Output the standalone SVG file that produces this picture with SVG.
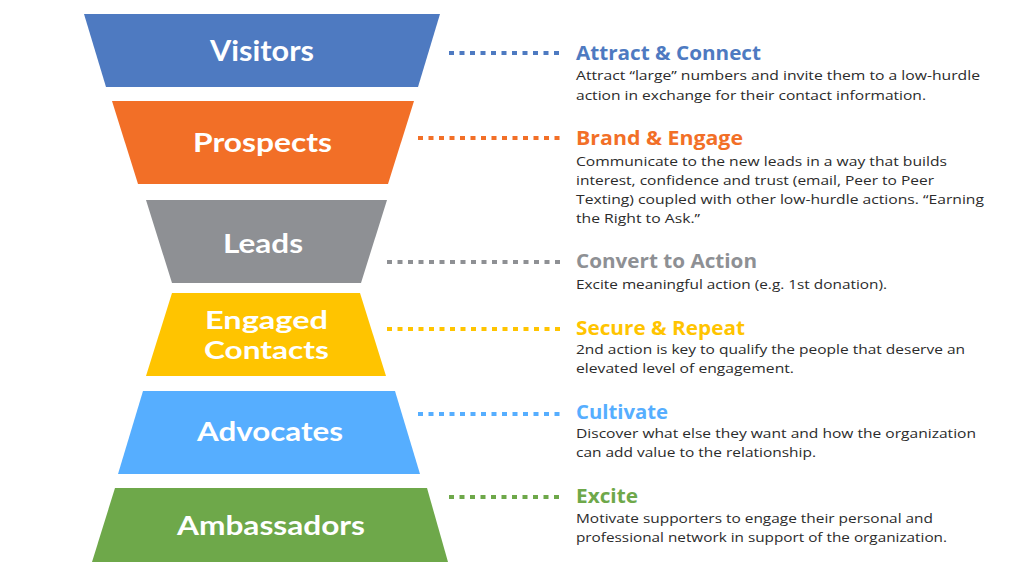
<svg xmlns="http://www.w3.org/2000/svg" width="1024" height="576" viewBox="0 0 1024 576">
<style>
.lbl{font-family:Lato,"Open Sans","Liberation Sans",sans-serif;font-weight:700;fill:#fff;text-anchor:middle}
.hd{font-family:"Open Sans","Liberation Sans",sans-serif;font-weight:700;font-size:20px}
.bd{font-family:"Open Sans","Liberation Sans",sans-serif;font-size:13.5px;fill:#2b2b2b}
.dot{stroke-width:4;stroke-dasharray:5 5.5;fill:none}
.c1{fill:#4E7AC1}.s1{stroke:#4E7AC1}
.c2{fill:#F26F27}.s2{stroke:#F26F27}
.c3{fill:#8E9094}.s3{stroke:#8E9094}
.c4{fill:#FFC400}.s4{stroke:#FFC400}
.c5{fill:#56AEFF}.s5{stroke:#56AEFF}
.c6{fill:#6EA84A}.s6{stroke:#6EA84A}
</style>
<rect width="1024" height="576" fill="#fff"/>
<g id="visitors">
<polygon class="c1" points="84,14 440,14 418,87 106,87"/>
<text class="lbl" x="262" y="61" font-size="28" textLength="104" lengthAdjust="spacingAndGlyphs">Visitors</text>
</g>
<g id="prospects">
<polygon class="c2" points="112,101 414,101 388,184 138,184"/>
<text class="lbl" x="262.5" y="152" font-size="27" textLength="139" lengthAdjust="spacingAndGlyphs">Prospects</text>
</g>
<g id="leads">
<polygon class="c3" points="146,200 387,200 361,283 172,283"/>
<text class="lbl" x="263" y="253" font-size="27" textLength="80" lengthAdjust="spacingAndGlyphs">Leads</text>
</g>
<g id="engaged">
<polygon class="c4" points="172,293 360,293 386,376 146,376"/>
<text class="lbl" x="266.5" y="329" font-size="24.5" textLength="123" lengthAdjust="spacingAndGlyphs">Engaged</text>
<text class="lbl" x="266.5" y="359" font-size="24.5" textLength="125" lengthAdjust="spacingAndGlyphs">Contacts</text>
</g>
<g id="advocates">
<polygon class="c5" points="143,391 395,391 420,474 118,474"/>
<text class="lbl" x="270" y="441" font-size="26" textLength="146" lengthAdjust="spacingAndGlyphs">Advocates</text>
</g>
<g id="ambassadors">
<polygon class="c6" points="115,488 427,488 448,562 92,562"/>
<text class="lbl" x="271" y="535" font-size="26" textLength="188" lengthAdjust="spacingAndGlyphs">Ambassadors</text>
</g>
<g id="connectors">
<line class="dot s1" x1="449" y1="53" x2="560" y2="53"/>
<line class="dot s2" x1="418" y1="138" x2="560" y2="138"/>
<line class="dot s3" x1="387" y1="262" x2="560" y2="262"/>
<line class="dot s4" x1="387" y1="329" x2="560" y2="329"/>
<line class="dot s5" x1="418" y1="414" x2="560" y2="414"/>
<line class="dot s6" x1="449" y1="497" x2="560" y2="497"/>
</g>
<g id="desc-visitors">
<text class="hd c1" x="576" y="60" textLength="185" lengthAdjust="spacingAndGlyphs">Attract &amp; Connect</text>
<text class="bd" x="576" y="80" textLength="404" lengthAdjust="spacingAndGlyphs">Attract “large” numbers and invite them to a low-hurdle</text>
<text class="bd" x="576" y="99.5" textLength="350" lengthAdjust="spacingAndGlyphs">action in exchange for their contact information.</text>
</g>
<g id="desc-prospects">
<text class="hd c2" x="576" y="145" textLength="167" lengthAdjust="spacingAndGlyphs">Brand &amp; Engage</text>
<text class="bd" x="576" y="165.5" textLength="371" lengthAdjust="spacingAndGlyphs">Communicate to the new leads in a way that builds</text>
<text class="bd" x="576" y="184.5" textLength="358" lengthAdjust="spacingAndGlyphs">interest, confidence and trust (email, Peer to Peer</text>
<text class="bd" x="576" y="203.5" textLength="408" lengthAdjust="spacingAndGlyphs">Texting) coupled with other low-hurdle actions. “Earning</text>
<text class="bd" x="576" y="222.5" textLength="124" lengthAdjust="spacingAndGlyphs">the Right to Ask.”</text>
</g>
<g id="desc-leads">
<text class="hd c3" x="576" y="268" textLength="181" lengthAdjust="spacingAndGlyphs">Convert to Action</text>
<text class="bd" x="576" y="289" textLength="311" lengthAdjust="spacingAndGlyphs">Excite meaningful action (e.g. 1st donation).</text>
</g>
<g id="desc-engaged">
<text class="hd c4" x="576" y="335" textLength="169" lengthAdjust="spacingAndGlyphs">Secure &amp; Repeat</text>
<text class="bd" x="576" y="354" textLength="389" lengthAdjust="spacingAndGlyphs">2nd action is key to qualify the people that deserve an</text>
<text class="bd" x="576" y="373" textLength="218" lengthAdjust="spacingAndGlyphs">elevated level of engagement.</text>
</g>
<g id="desc-advocates">
<text class="hd c5" x="576" y="419" textLength="92" lengthAdjust="spacingAndGlyphs">Cultivate</text>
<text class="bd" x="576" y="438" textLength="400" lengthAdjust="spacingAndGlyphs">Discover what else they want and how the organization</text>
<text class="bd" x="576" y="457" textLength="240" lengthAdjust="spacingAndGlyphs">can add value to the relationship.</text>
</g>
<g id="desc-ambassadors">
<text class="hd c6" x="576" y="503" textLength="62" lengthAdjust="spacingAndGlyphs">Excite</text>
<text class="bd" x="576" y="522.5" textLength="357" lengthAdjust="spacingAndGlyphs">Motivate supporters to engage their personal and</text>
<text class="bd" x="576" y="541.5" textLength="371" lengthAdjust="spacingAndGlyphs">professional network in support of the organization.</text>
</g>
</svg>
